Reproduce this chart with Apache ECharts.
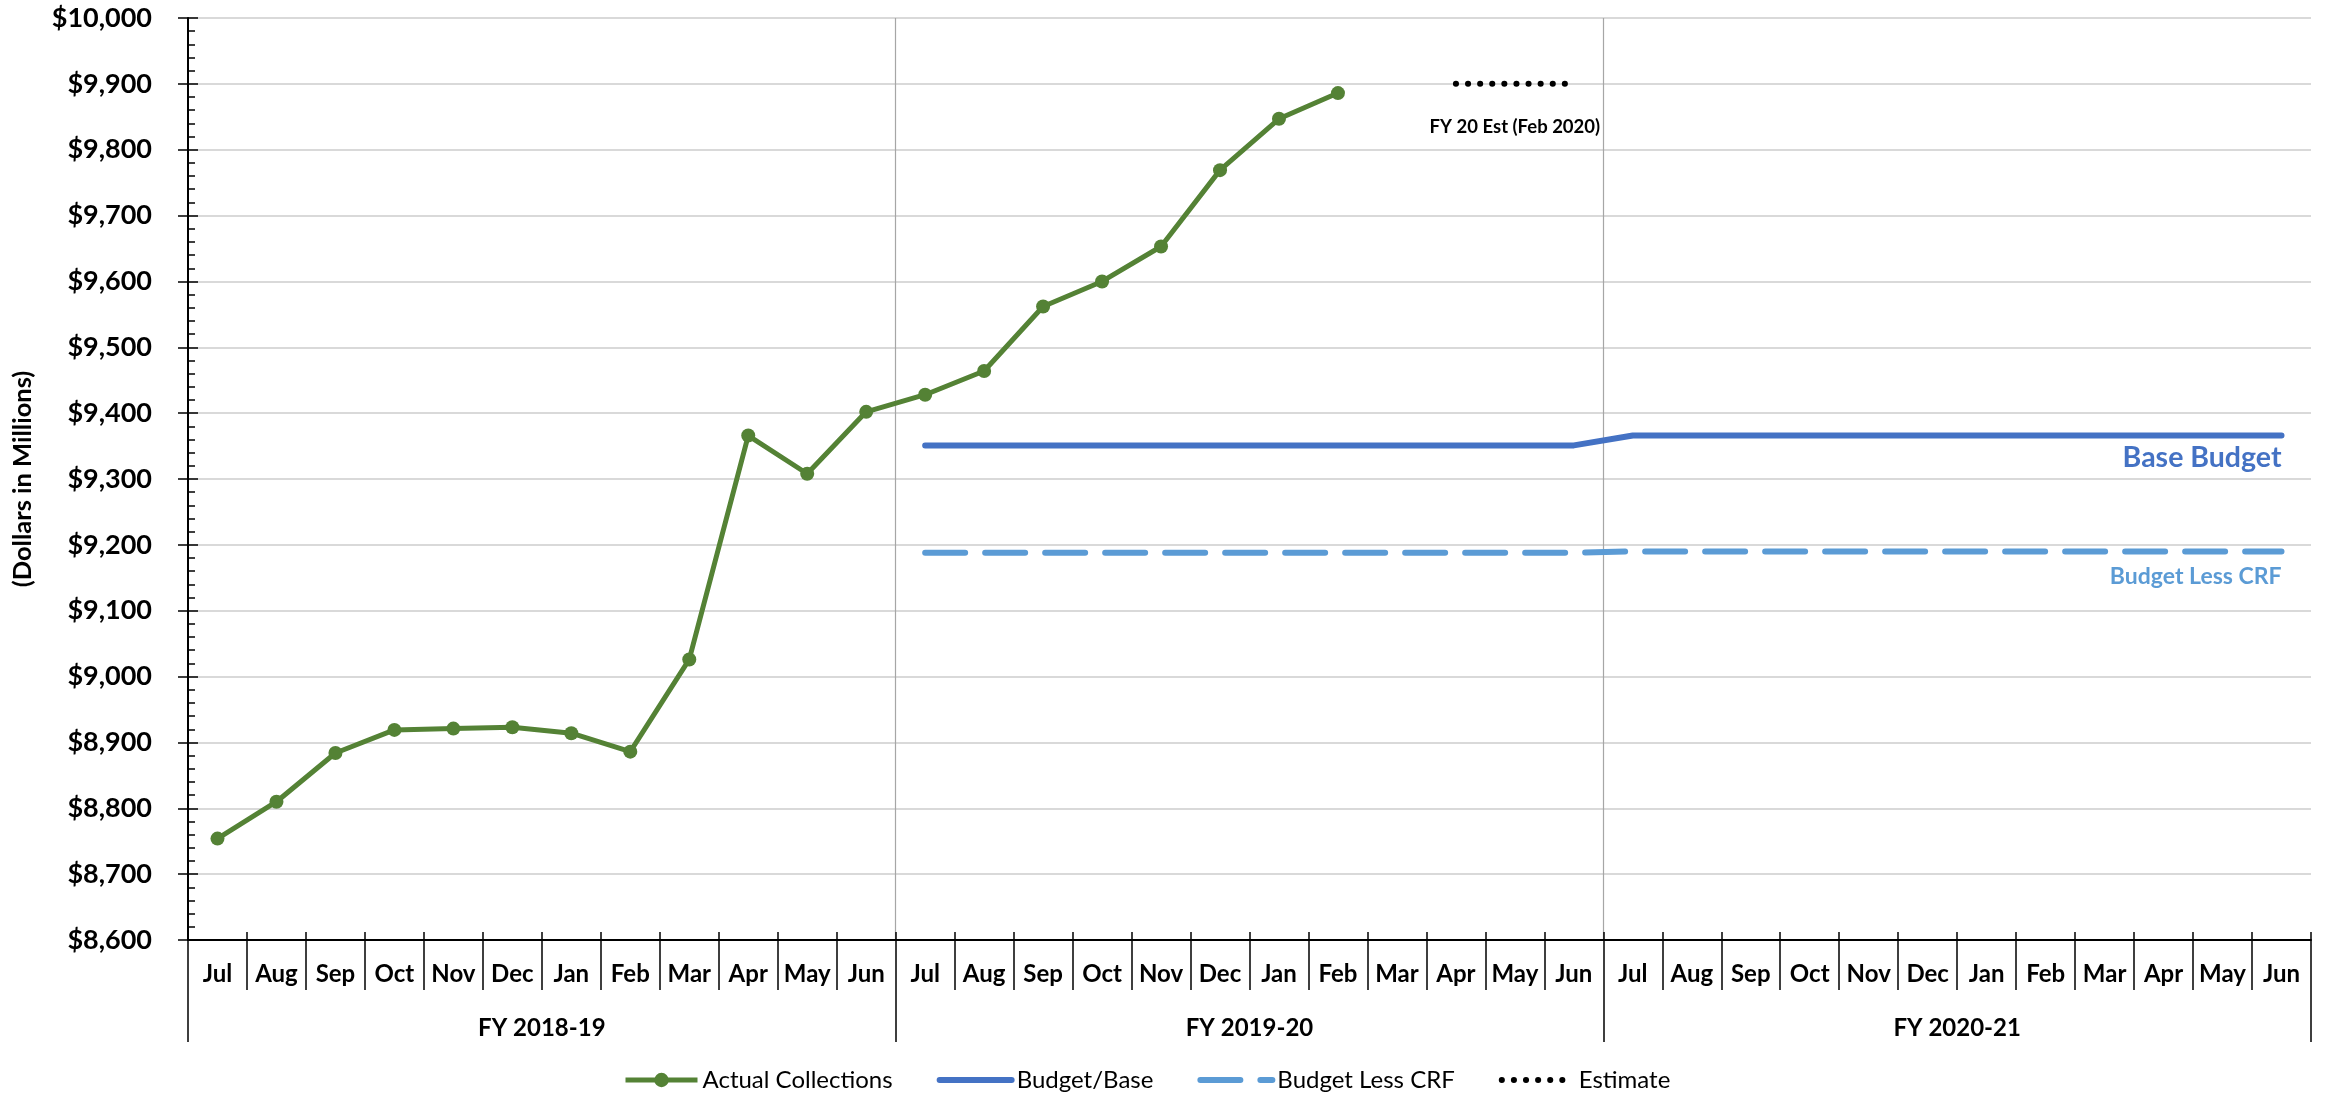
<!DOCTYPE html>
<html>
<head>
<meta charset="utf-8">
<script src="https://cdn.jsdelivr.net/npm/echarts@6/dist/echarts.min.js"></script>
<style>
html, body { margin: 0; padding: 0; background: #fff; }
#chart_ctn { width: 2325px; height: 1097px; }
</style>
</head>
<body>
<div id="chart_ctn"></div>
<script>
font = 'Lato, "Noto Sans", sans-serif'
green = '#548235'
blue = '#4472C4'
lightBlue = '#5B9BD5'
gridColor = '#D9D9D9'

// x axis: 3 fiscal years x 12 months
months = ['Jul', 'Aug', 'Sep', 'Oct', 'Nov', 'Dec', 'Jan', 'Feb', 'Mar', 'Apr', 'May', 'Jun'];
fiscalYears = ['FY 2018-19', 'FY 2019-20', 'FY 2020-21'];
categories = [].concat(months, months, months);

// $ millions
actualCollections = [
    8754, 8810, 8884, 8919, 8921, 8923, 8914, 8886, 9026, 9366, 9308, 9402,
    9428, 9464, 9562, 9600, 9653, 9769, 9847, 9886, null, null, null, null,
    null, null, null, null, null, null, null, null, null, null, null, null
];
budgetBase = [
    null, null, null, null, null, null, null, null, null, null, null, null,
    9351, 9351, 9351, 9351, 9351, 9351, 9351, 9351, 9351, 9351, 9351, 9351,
    9366, 9366, 9366, 9366, 9366, 9366, 9366, 9366, 9366, 9366, 9366, 9366
];
budgetLessCRF = [
    null, null, null, null, null, null, null, null, null, null, null, null,
    9188, 9188, 9188, 9188, 9188, 9188, 9188, 9188, 9188, 9188, 9188, 9188,
    9190, 9190, 9190, 9190, 9190, 9190, 9190, 9190, 9190, 9190, 9190, 9190
];
estimate = [
    null, null, null, null, null, null, null, null, null, null, null, null,
    null, null, null, null, null, null, null, null, null, 9900, 9900, 9900,
    null, null, null, null, null, null, null, null, null, null, null, null
];

yMin = 8600
yMax = 10000
yStep = 100

function lastIndex(arr) {
    for (var i = arr.length - 1; i >= 0; i--) if (arr[i] != null) return i;
    return -1;
}
var baseEnd = lastIndex(budgetBase);
var crfEnd = lastIndex(budgetLessCRF);

// legend entries without a marker: hide the dot ECharts puts on line icons
var noDot = { opacity: 0, borderWidth: 0 };

option = {
    animation: false,
    backgroundColor: '#fff',
    grid: {
        left: 188,
        right: 14,
        top: 18,
        bottom: 157
    },
    legend: {
        top: 1063,
        left: 618,
        itemWidth: 72,
        itemHeight: 18,
        itemGap: 44,
        lineStyle: { width: 'inherit' },
        textStyle: { fontFamily: font, fontSize: 24, color: '#000' },
        data: [
            { name: 'Actual Collections' },
            { name: 'Budget/Base', itemStyle: noDot },
            { name: 'Budget Less CRF', itemStyle: noDot },
            { name: 'Estimate', itemStyle: noDot }
        ]
    },
    xAxis: [{
        // month labels, ticks hanging down
        type: 'category',
        data: categories,
        position: 'bottom',
        axisLine: { show: true, lineStyle: { color: '#000', width: 2 } },
        axisTick: { show: true, interval: 0, length: 50, lineStyle: { color: '#000', width: 1.5 } },
        axisLabel: {
            interval: 0,
            margin: 22,
            color: '#000',
            fontFamily: font,
            fontWeight: 'bold',
            fontSize: 24
        },
        splitLine: { show: false }
    }, {
        // short ticks poking up into the plot
        type: 'category',
        data: categories,
        position: 'bottom',
        axisLine: { show: false },
        axisTick: { show: true, interval: 0, inside: true, length: 8, lineStyle: { color: '#000', width: 1.5 } },
        axisLabel: { show: false },
        splitLine: { show: false }
    }, {
        // fiscal year row
        type: 'category',
        data: fiscalYears,
        position: 'bottom',
        axisLine: { show: false },
        axisTick: { show: true, interval: 0, length: 102, lineStyle: { color: '#000', width: 1.5 } },
        axisLabel: {
            interval: 0,
            margin: 76,
            color: '#000',
            fontFamily: font,
            fontWeight: 'bold',
            fontSize: 24
        },
        splitLine: {
            show: true,
            showMinLine: false,
            showMaxLine: false,
            lineStyle: { color: '#A6A6A6', width: 1.2 }
        }
    }],
    yAxis: [{
        type: 'value',
        min: yMin,
        max: yMax,
        interval: yStep,
        name: '(Dollars in Millions)',
        nameLocation: 'middle',
        nameGap: 152,
        nameTextStyle: { fontFamily: font, fontWeight: 'bold', fontSize: 25.5, color: '#000' },
        axisLine: { show: true, lineStyle: { color: '#000', width: 2 } },
        axisTick: { show: true, length: 10, lineStyle: { color: '#000', width: 1.5 } },
        axisLabel: {
            margin: 36,
            color: '#000',
            fontFamily: font,
            fontWeight: 'bold',
            fontSize: 27,
            formatter: function (v) { return '$' + v.toLocaleString('en-US'); }
        },
        splitLine: { lineStyle: { color: gridColor, width: 2 } }
    }, {
        // inside half of the ticks plus minor ticks
        type: 'value',
        min: yMin,
        max: yMax,
        interval: yStep,
        position: 'left',
        axisLine: { show: false },
        axisTick: { show: true, inside: true, length: 10, lineStyle: { color: '#000', width: 1.5 } },
        minorTick: { show: true, splitNumber: 5, length: 7, lineStyle: { color: '#000', width: 1.5 } },
        axisLabel: { show: false },
        splitLine: { show: false }
    }],
    series: [{
        name: 'Budget Less CRF',
        type: 'line',
        data: budgetLessCRF,
        symbol: 'none',
        lineStyle: { color: lightBlue, width: 6, type: [40, 20], cap: 'round' },
        itemStyle: { color: lightBlue },
        markPoint: {
            symbol: 'circle',
            symbolSize: 0,
            data: [{
                coord: [crfEnd, budgetLessCRF[crfEnd]],
                label: {
                    show: true,
                    position: 'bottom',
                    distance: 14,
                    align: 'right',
                    formatter: 'Budget Less CRF',
                    color: lightBlue,
                    fontFamily: font,
                    fontWeight: 'bold',
                    fontSize: 23
                }
            }]
        }
    }, {
        name: 'Budget/Base',
        type: 'line',
        data: budgetBase,
        symbol: 'none',
        lineStyle: { color: blue, width: 6, cap: 'round', join: 'round' },
        itemStyle: { color: blue },
        markPoint: {
            symbol: 'circle',
            symbolSize: 0,
            data: [{
                coord: [baseEnd, budgetBase[baseEnd]],
                label: {
                    show: true,
                    position: 'bottom',
                    distance: 8,
                    align: 'right',
                    formatter: 'Base Budget',
                    color: blue,
                    fontFamily: font,
                    fontWeight: 'bold',
                    fontSize: 28.5
                }
            }]
        }
    }, {
        name: 'Estimate',
        type: 'line',
        data: estimate,
        symbol: 'none',
        lineStyle: { color: '#000', width: 6, type: [0.1, 12], cap: 'round' },
        itemStyle: { color: '#000' },
        markPoint: {
            symbol: 'circle',
            symbolSize: 0,
            data: [{
                coord: [22, estimate[22]],
                label: {
                    show: true,
                    position: 'bottom',
                    distance: 34,
                    formatter: 'FY 20 Est (Feb 2020)',
                    color: '#000',
                    fontFamily: font,
                    fontWeight: 'bold',
                    fontSize: 18.5
                }
            }]
        }
    }, {
        name: 'Actual Collections',
        type: 'line',
        data: actualCollections,
        symbol: 'circle',
        symbolSize: 14,
        lineStyle: { color: green, width: 5 },
        itemStyle: { color: green },
        z: 5
    }]
};

var myChart = echarts.init(document.getElementById('chart_ctn'));
myChart.setOption(option);
</script>
</body>
</html>
